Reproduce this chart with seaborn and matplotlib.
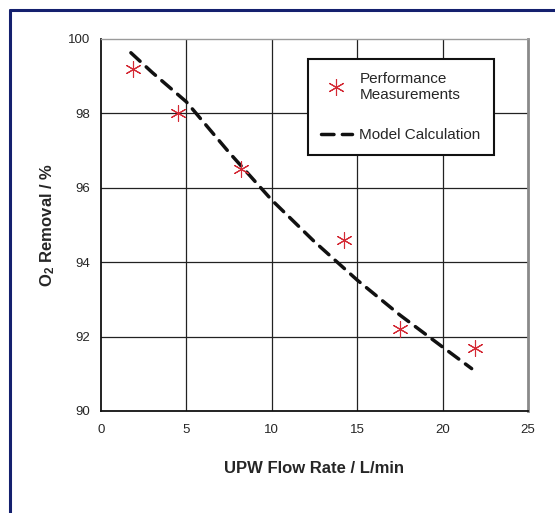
import matplotlib
matplotlib.use("Agg")
import matplotlib.pyplot as plt
from matplotlib.lines import Line2D
import seaborn as sns
import pandas as pd

# Measured oxygen removal vs. UPW flow rate
flow_meas = [1.9, 4.5, 8.2, 14.2, 17.5, 21.9]
o2_meas = [99.2, 98.0, 96.5, 94.6, 92.2, 91.7]

# Model calculation curve
flow_model = [1.75, 3.0, 5.0, 7.5, 10.0, 12.5, 15.0, 17.5, 20.0, 21.7]
o2_model = [99.63, 99.10, 98.31, 96.95, 95.67, 94.55, 93.52, 92.58, 91.72, 91.14]

x_ticks = [0, 5, 10, 15, 20, 25]
y_ticks = [90, 92, 94, 96, 98, 100]

sns.set_theme(style="white")
plt.rcParams["font.family"] = ["Liberation Sans Narrow", "Liberation Sans", "DejaVu Sans"]
plt.rcParams["mathtext.default"] = "regular"

meas = pd.DataFrame({"flow": flow_meas, "o2": o2_meas})
model = pd.DataFrame({"flow": flow_model, "o2": o2_model})

fig = plt.figure(figsize=(5.55, 5.13), dpi=100)
ax = fig.add_axes([101 / 555, 1 - 411 / 513, 427 / 555, 372 / 513])

red = "#d42a35"
text_col = "#262626"

# grid
for xv in x_ticks[1:-1]:
    ax.axvline(xv, color="#222222", lw=0.9, zorder=0)
for yv in y_ticks[1:-1]:
    ax.axhline(yv, color="#222222", lw=0.9, zorder=0)

sns.lineplot(data=model, x="flow", y="o2", ax=ax, color="#111111", lw=2.5,
             sort=False, estimator=None, zorder=3)
ax.lines[-1].set_dashes((3.6, 2.4))
ax.lines[-1].set_dash_capstyle("round")

sns.scatterplot(data=meas, x="flow", y="o2", ax=ax, marker=(6, 2, 0), s=130,
                color=red, edgecolor=red, linewidth=0.8, zorder=4)

ax.set_xlim(0, 25)
ax.set_ylim(90, 100)
ax.set_xticks(x_ticks)
ax.set_yticks(y_ticks)
ax.tick_params(axis="both", direction="inout", length=9, width=1.1,
               color="black", labelsize=9.5, labelcolor=text_col, pad=3)
ax.tick_params(axis="x", pad=5)

for side in ("left", "bottom"):
    ax.spines[side].set_color("#111111")
    ax.spines[side].set_linewidth(1.3)
ax.spines["top"].set_color("#9a9a9a")
ax.spines["top"].set_linewidth(1.0)
ax.spines["right"].set_color("#8a8a8a")
ax.spines["right"].set_linewidth(2.0)

ax.set_xlabel("UPW Flow Rate / L/min", fontsize=12, fontweight="bold",
              color=text_col, labelpad=18)
ax.set_ylabel("O$_2$ Removal / %", fontsize=12, fontweight="bold",
              color=text_col, labelpad=8)

handles = [
    Line2D([], [], marker=(6, 2, 0), color=red, linestyle="none",
           markersize=12, markeredgewidth=0.8),
    Line2D([], [], color="#111111", lw=2.5, dashes=(3.6, 2.4),
           dash_capstyle="round"),
]
leg = ax.legend(handles, ["Performance\nMeasurements", "Model Calculation"],
                loc="upper left", bbox_to_anchor=(0.485, 0.946),
                fontsize=11, frameon=True, fancybox=False, framealpha=1,
                edgecolor="#111111", borderpad=0.85, labelspacing=1.7,
                handlelength=2.0, handletextpad=0.5, borderaxespad=0)
leg.get_frame().set_linewidth(1.5)
for t in leg.get_texts():
    t.set_color(text_col)

# navy frame around the figure
navy = "#14206e"
fig.add_artist(Line2D([10 / 555, 10 / 555], [0, 1 - 10 / 513],
                      color=navy, lw=2.2, transform=fig.transFigure))
fig.add_artist(Line2D([10 / 555, 1], [1 - 10 / 513, 1 - 10 / 513],
                      color=navy, lw=2.2, transform=fig.transFigure))

fig.savefig("out.png", dpi=100, facecolor="white")
